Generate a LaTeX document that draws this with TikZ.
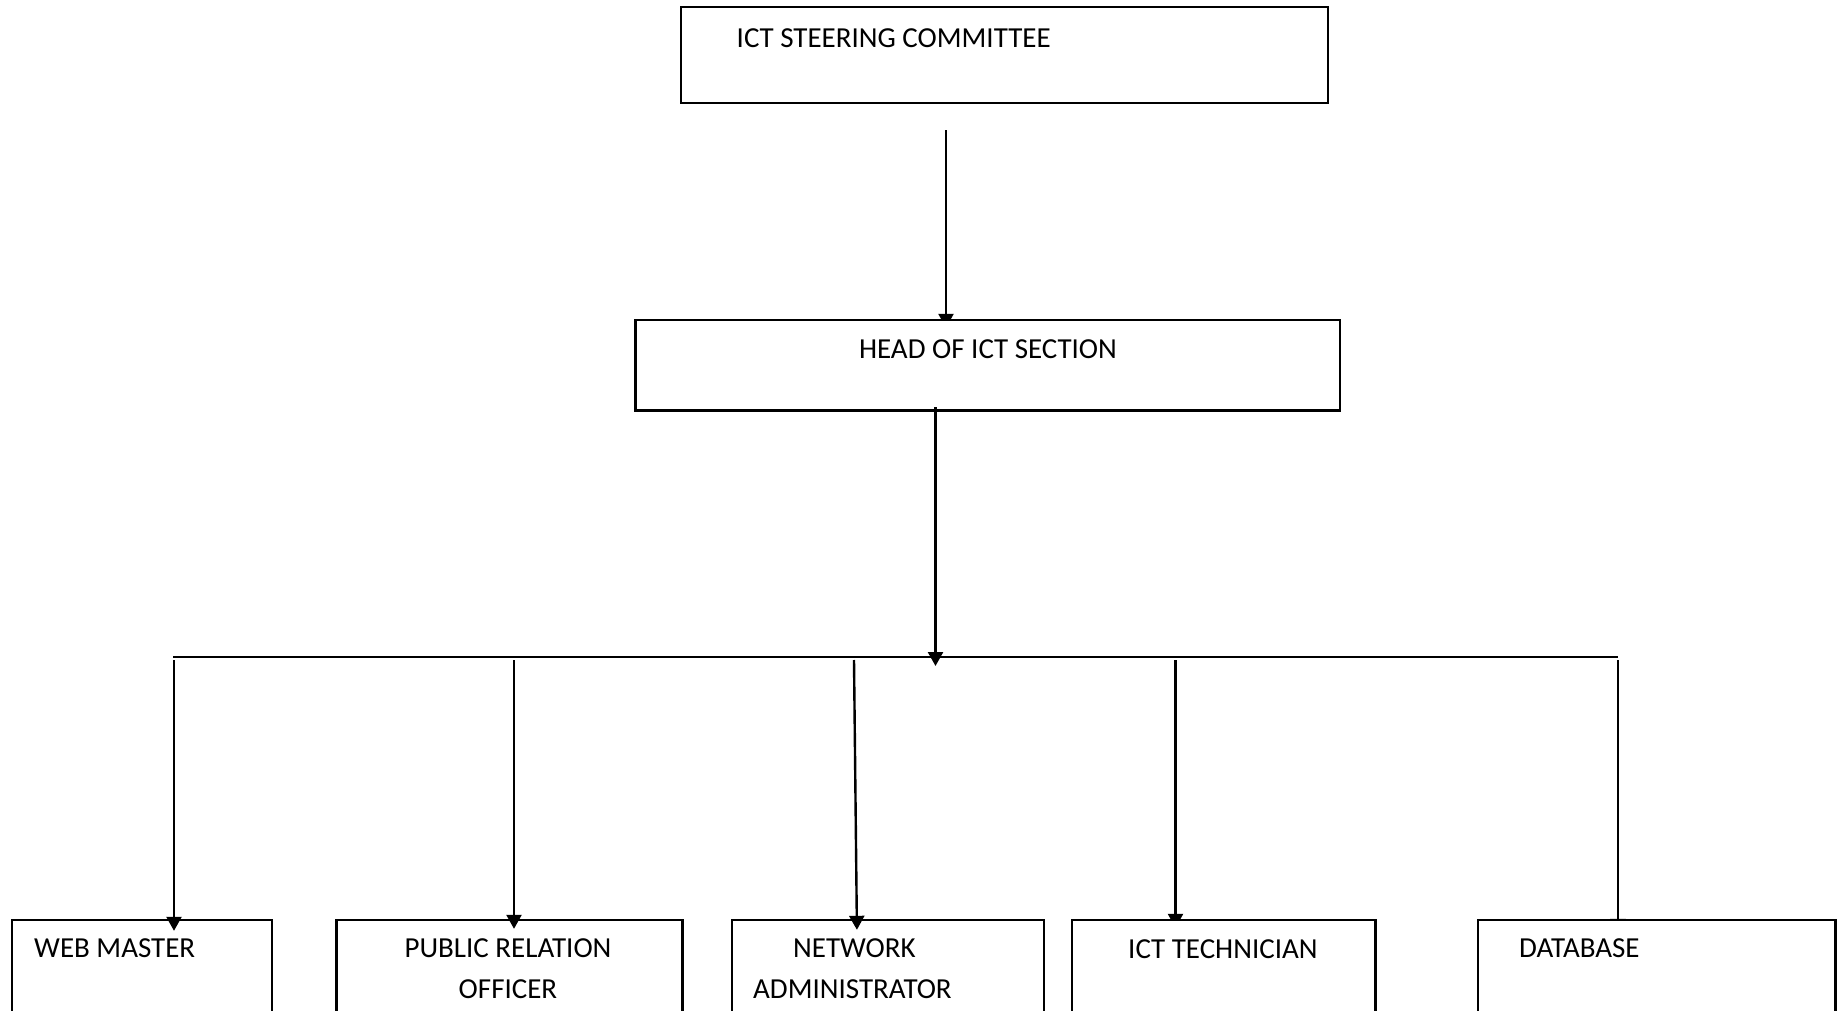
\documentclass[tikz,border=0pt]{standalone}
\usepackage{fontspec}
\setmainfont{Carlito}
\usetikzlibrary{arrows.meta,calc,backgrounds}

\begin{document}
\begin{tikzpicture}[x=1pt, y=-1pt, line width=2.4pt]
    % Define the styles for boxes, texts and arrows
    \tikzstyle{unit} = [rectangle, draw, fill=white, inner sep=0pt]
    \tikzstyle{caption} = [inner sep=0pt, font=\fontsize{29}{35}\selectfont]
    \tikzstyle{link} = [line width=2.4pt, -{Triangle[width=15pt,length=14pt]}]

    \useasboundingbox (0,0) rectangle (1845,1011);

    % Create the nodes for the top levels
    \node [unit, minimum width=647pt, minimum height=96pt] (steering) at (1004.5,55) {};
    \node [caption, anchor=west] (steeringtext) at (735.5,37.7) {ICT STEERING COMMITTEE};
    \node [unit, minimum width=704.5pt, minimum height=90.5pt] (head) at (987.75,365.25) {};
    \node [caption] (headtext) at (988,349.5) {HEAD OF ICT SECTION};

    % Create the nodes for each section
    \node [unit, minimum width=260pt, minimum height=140pt] (web) at (141.8,990) {};
    \node [caption, anchor=west] (webtext) at (33,948.5) {WEB MASTER};
    \node [unit, minimum width=346pt, minimum height=140pt] (pro) at (509.5,990) {};
    \node [caption] (protext1) at (508,948.5) {PUBLIC RELATION};
    \node [caption] (protext2) at (508,989.6) {OFFICER};
    \node [unit, minimum width=312pt, minimum height=140pt] (net) at (888,990) {};
    \node [caption, anchor=west] (nettext1) at (792,948.5) {NETWORK};
    \node [caption, anchor=west] (nettext2) at (752,989.6) {ADMINISTRATOR};
    \node [unit, minimum width=303.6pt, minimum height=140pt] (tech) at (1223.8,990) {};
    \node [caption, anchor=west] (techtext) at (1127,949) {ICT TECHNICIAN};
    \node [unit, minimum width=357.6pt, minimum height=140pt] (db) at (1656.8,990) {};
    \node [caption, anchor=west] (dbtext) at (1518,948.5) {DATABASE};

    % Points for the free ends of the arrows
    \coordinate (topout) at (946,130.5);
    \coordinate (headout) at (935.5,407);
    \coordinate (busmid) at (935.5,657);
    \coordinate (busleft) at (173,657);
    \coordinate (busright) at (1618,657);
    \coordinate (drop1) at (174,660);
    \coordinate (drop2) at (514,660);
    \coordinate (drop3) at (854,660);
    \coordinate (drop4) at (1175.5,660);
    \coordinate (drop5) at (1618,660);

    % Arrows whose heads go behind the boxes
    \begin{scope}[on background layer]
        \draw [link, shorten >=-9pt] (topout) -- (topout |- head.north);
        \draw [link, shorten >=-9pt] (drop4) -- (drop4 |- tech.north);
        \draw [link, shorten >=-14pt] (drop5) -- (drop5 |- db.north);
    \end{scope}

    % Draw the other arrows between the nodes
    \draw [link, shorten >=-9pt] (headout) -- (busmid);
    \draw (busleft) -- (busright);
    \draw [link, shorten >=-12pt] (drop1) -- (drop1 |- web.north);
    \draw [link, shorten >=-10pt] (drop2) -- (drop2 |- pro.north);
    \draw [link, shorten >=-11pt] (drop3) -- ($(net.north west)+(126,0)$);
\end{tikzpicture}
\end{document}
